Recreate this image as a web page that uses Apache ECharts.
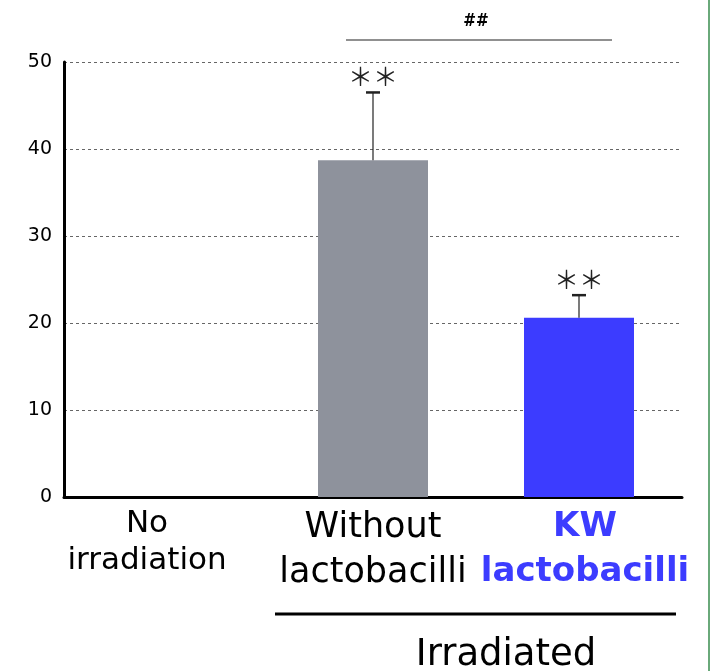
<!DOCTYPE html>
<html>
<head>
<meta charset="utf-8">
<script src="https://cdn.jsdelivr.net/npm/echarts@6/dist/echarts.min.js"></script>
<style>
  html, body { margin: 0; padding: 0; background: #fff; }
  #chart { width: 713px; height: 671px; }
  #border { position: absolute; left: 708px; top: 0; width: 2px; height: 671px; background: #6aa97a; }
</style>
</head>
<body>
<div id="chart"></div>
<div id="border"></div>
<script>
const categories = ['{a|No}\n{a|irradiation}', '{w|Without}\n{w|lactobacilli}', '{b|KW}\n{b|lactobacilli}']
const means = [0, 38.7, 20.6]
const errTop = [null, 46.5, 23.2]
const stars = ['', '＊＊', '＊＊']
const yTicks = [0, 10, 20, 30, 40, 50]
const barColors = ['#8e929c', '#8e929c', '#3c3cff']

const FONT = 'DejaVu Sans, sans-serif'
const chart = echarts.init(document.getElementById('chart'))

const option = {
  animation: false,
  grid: { left: 64, right: 31, top: 62, bottom: 174 },
  xAxis: {
    type: 'category',
    data: categories,
    axisLine: { lineStyle: { color: '#000', width: 3 } },
    axisTick: { inside: true, length: 12, lineStyle: { color: '#000', width: 1 } },
    axisLabel: {
      interval: 0,
      margin: 8,
      color: '#000',
      fontFamily: FONT,
      rich: {
        a: { color: '#000', fontSize: 31, lineHeight: 37, fontFamily: FONT, padding: [0, 40, 0, 0] },
        w: { color: '#000', fontSize: 35, lineHeight: 45, fontFamily: FONT },
        b: { color: '#3c3cff', fontWeight: 'bold', fontSize: 34, lineHeight: 45, fontFamily: FONT, padding: [0, 0, 0, 12] }
      }
    }
  },
  yAxis: {
    type: 'value',
    min: yTicks[0],
    max: yTicks[yTicks.length - 1],
    interval: 10,
    axisLine: { show: true, lineStyle: { color: '#000', width: 3 } },
    axisTick: { show: false },
    axisLabel: {
      color: '#000',
      fontSize: 19,
      margin: 12,
      fontFamily: FONT
    },
    splitLine: { lineStyle: { color: '#666', type: [3, 3], width: 1 } }
  },
  series: [
    {
      type: 'bar',
      barWidth: 110,
      data: means.map((v, i) => ({ value: v, itemStyle: { color: barColors[i] } }))
    },
    {
      type: 'custom',
      data: errTop.map((v, i) => [i, means[i], v === null ? means[i] : v]),
      renderItem: function (params, api) {
        if (errTop[params.dataIndex] === null) return null
        const base = api.coord([api.value(0), api.value(1)])
        const top = api.coord([api.value(0), api.value(2)])
        const cap = 7
        return {
          type: 'group',
          children: [
            { type: 'line', shape: { x1: base[0], y1: base[1], x2: top[0], y2: top[1] }, style: { stroke: '#222', lineWidth: 1.2 } },
            { type: 'line', shape: { x1: top[0] - cap, y1: top[1], x2: top[0] + cap, y2: top[1] }, style: { stroke: '#222', lineWidth: 2.5 } },
            { type: 'text', x: top[0], y: top[1] - 16, style: { text: stars[params.dataIndex], fill: '#222', fontSize: 25, fontFamily: 'Noto Sans CJK JP', align: 'center', verticalAlign: 'middle' } }
          ]
        }
      },
      z: 5
    }
  ]
}

chart.setOption(option)

// brackets placed from the axis scales
const p1 = chart.convertToPixel({ xAxisIndex: 0 }, 1)
const p2 = chart.convertToPixel({ xAxisIndex: 0 }, 2)
const half = p2 - p1
chart.setOption({
  graphic: [
    { type: 'line', shape: { x1: p1 - 27, y1: 40, x2: p2 + 33, y2: 40 }, style: { stroke: '#222', lineWidth: 1.2 } },
    { type: 'text', x: (p1 + p2) / 2, y: 22, style: { text: '##', fill: '#000', fontSize: 17, fontWeight: 'bold', fontFamily: 'DejaVu Sans Condensed, DejaVu Sans', align: 'center', verticalAlign: 'middle' } },
    { type: 'line', shape: { x1: p1 - half / 2 + 5, y1: 614, x2: p2 + half / 2 - 6, y2: 614 }, style: { stroke: '#000', lineWidth: 3 } },
    { type: 'text', x: (p1 + p2) / 2 + 30, y: 655, style: { text: 'Irradiated', fill: '#000', fontSize: 37, fontFamily: FONT, align: 'center', verticalAlign: 'middle' } }
  ]
})
</script>
</body>
</html>
